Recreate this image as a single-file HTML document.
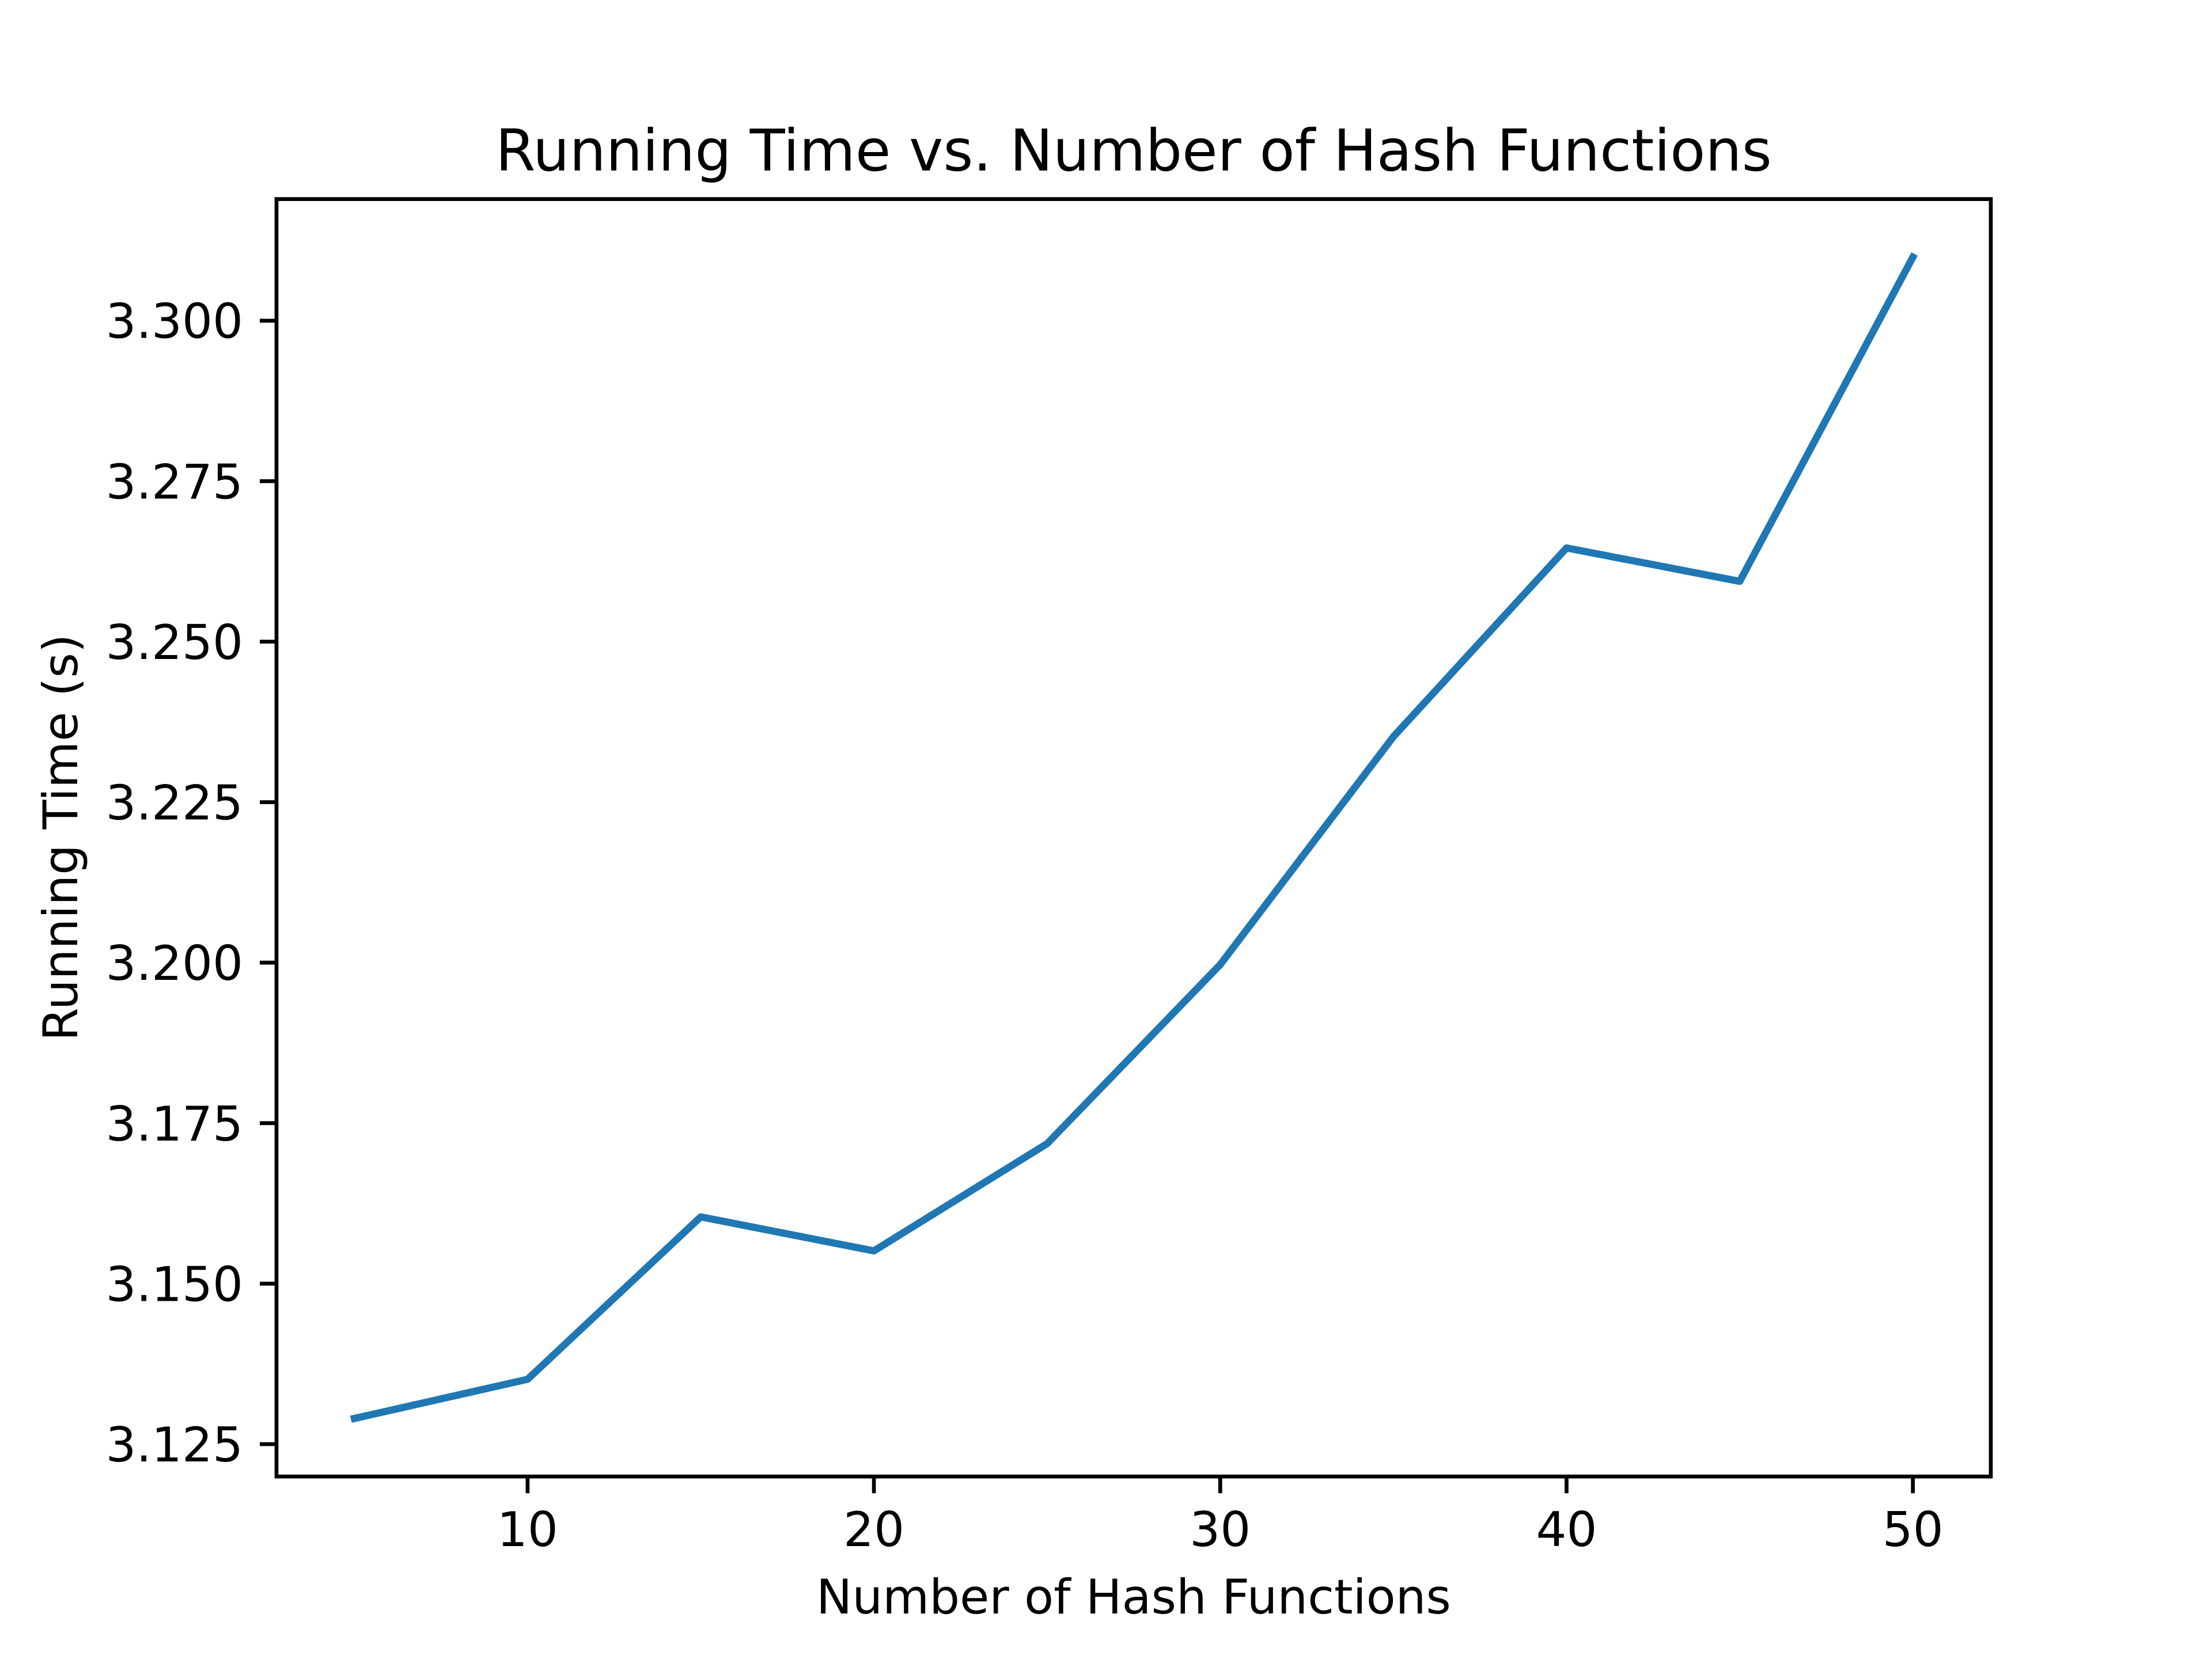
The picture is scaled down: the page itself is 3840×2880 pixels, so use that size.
<!DOCTYPE html>
<html><head><meta charset="utf-8"><style>
body{margin:0;background:#fff}
svg{display:block}
text{font-family:"DejaVu Sans","Liberation Sans",sans-serif;fill:#000}
</style></head><body>
<svg id="chart" width="3840" height="2880" viewBox="0 0 3840 2880">
<rect width="3840" height="2880" fill="#fff"/>
<text x="1968" y="296" font-size="100" text-anchor="middle">Running Time vs. Number of Hash Functions</text>
<text x="1968" y="2801" font-size="83.3" text-anchor="middle">Number of Hash Functions</text>
<text transform="translate(134,1454) rotate(-90)" font-size="83.3" text-anchor="middle">Running Time (s)</text>
<g id="ticks"></g>
<polyline id="series" fill="none" stroke="#1f77b4" stroke-width="12.5" stroke-linejoin="round" stroke-linecap="square"/>
<rect x="480" y="345.6" width="2976" height="2217.6" fill="none" stroke="#000" stroke-width="6.7"/>
</svg>
<script>
const hashCounts=[5,10,15,20,25,30,35,40,45,50];
const runTimes=[3.1290,3.1351,3.1604,3.1551,3.1718,3.1997,3.2352,3.2646,3.2594,3.3099];
const xTicks=[10,20,30,40,50];
const yTicks=[3.125,3.150,3.175,3.200,3.225,3.250,3.275,3.300];
const yTickLabels=["3.125","3.150","3.175","3.200","3.225","3.250","3.275","3.300"];

const L=480,R=3456,T=345.6,B=2563.2;
const xmin0=Math.min(...hashCounts),xmax0=Math.max(...hashCounts);
const ymin0=Math.min(...runTimes),ymax0=Math.max(...runTimes);
const xpad=(xmax0-xmin0)*0.05,ypad=(ymax0-ymin0)*0.05;
const xmin=xmin0-xpad,xmax=xmax0+xpad,ymin=ymin0-ypad,ymax=ymax0+ypad;
function sx(v){return L+(v-xmin)/(xmax-xmin)*(R-L);}
function sy(v){return B-(v-ymin)/(ymax-ymin)*(B-T);}
const NS="http://www.w3.org/2000/svg";
const g=document.getElementById('ticks');
const line=document.getElementById('series');
line.setAttribute('points',hashCounts.map((x,i)=>sx(x)+','+sy(runTimes[i])).join(' '));
xTicks.forEach(t=>{
  const x=sx(t);
  const l=document.createElementNS(NS,'line');
  l.setAttribute('x1',x);l.setAttribute('x2',x);l.setAttribute('y1',B);l.setAttribute('y2',B+29);
  l.setAttribute('stroke','#000');l.setAttribute('stroke-width','6.7');
  
  
  g.appendChild(l);
  const tx=document.createElementNS(NS,'text');
  tx.setAttribute('x',x);tx.setAttribute('y',B+58+63);
  tx.setAttribute('font-size','83.3');tx.setAttribute('text-anchor','middle');
  tx.textContent=String(t);
  
  
  g.appendChild(tx);
});
yTicks.forEach((t,i)=>{
  const y=sy(t);
  const l=document.createElementNS(NS,'line');
  l.setAttribute('x1',L-29);l.setAttribute('x2',L);l.setAttribute('y1',y);l.setAttribute('y2',y);
  l.setAttribute('stroke','#000');l.setAttribute('stroke-width','6.7');
  
  
  g.appendChild(l);
  const tx=document.createElementNS(NS,'text');
  tx.setAttribute('x',L-58);tx.setAttribute('y',y+30);
  tx.setAttribute('font-size','83.3');tx.setAttribute('text-anchor','end');
  tx.textContent=yTickLabels[i];
  
  
  g.appendChild(tx);
});
</script>
</body></html>
